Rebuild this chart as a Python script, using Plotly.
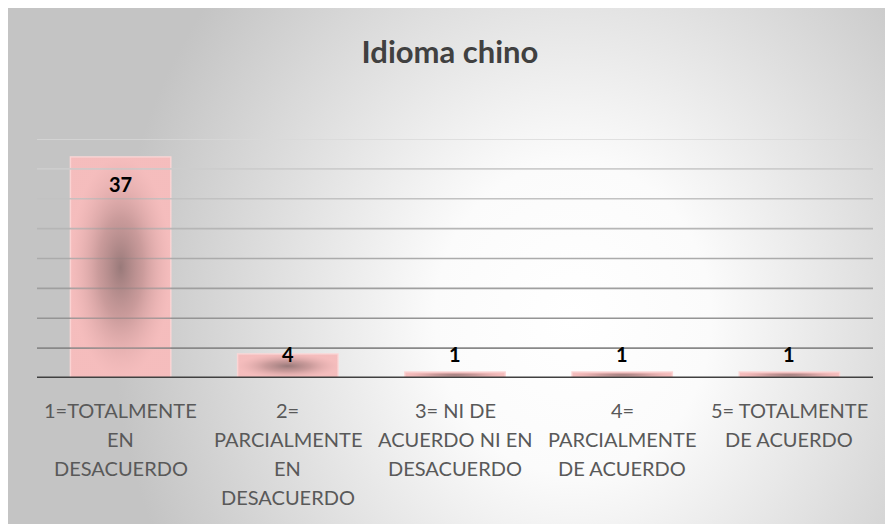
import plotly.graph_objects as go

# ---- data ----
categories = ["1=TOTALMENTE EN DESACUERDO", "2= PARCIALMENTE EN DESACUERDO",
              "3= NI DE ACUERDO NI EN DESACUERDO", "4= PARCIALMENTE DE ACUERDO",
              "5= TOTALMENTE DE ACUERDO"]
tick_lines = [["1=TOTALMENTE", "EN", "DESACUERDO"],
              ["2=", "PARCIALMENTE", "EN", "DESACUERDO"],
              ["3= NI DE", "ACUERDO NI EN", "DESACUERDO"],
              ["4=", "PARCIALMENTE", "DE ACUERDO"],
              ["5= TOTALMENTE", "DE ACUERDO"]]
values = [37, 4, 1, 1, 1]
title_text = "Idioma chino"
y_max = 40
y_step = 5

W, H = 893, 524
FONT = "Lato"
EDGE_GRAY = "#c4c4c4"

fig = go.Figure()

# ---- background (radial gradient chart area) on subplot xy, pixel coordinates ----
fig.add_trace(go.Scatter(
    x=[0, W, W, 0, 0], y=[0, 0, H, H, 0], mode="lines", line=dict(width=0),
    fill="toself", fillcolor=EDGE_GRAY, hoverinfo="skip", showlegend=False,
    xaxis="x", yaxis="y"))
cx, cy, rx, ry = 565, 310, 460, 520
fig.add_trace(go.Scatter(
    x=[cx - rx, cx + rx, cx + rx, cx - rx, cx - rx],
    y=[cy - ry, cy - ry, cy + ry, cy + ry, cy - ry],
    mode="lines", line=dict(width=0), fill="toself",
    fillgradient=dict(type="radial",
                      colorscale=[[0, "#ffffff"], [0.3, "#fbfbfb"], [0.75, "#d8d8d8"],
                                  [1, EDGE_GRAY]]),
    hoverinfo="skip", showlegend=False, xaxis="x", yaxis="y"))

# ---- gridlines (light at top, darker toward the bottom) ----
grid_vals = list(range(y_step, y_max + 1, y_step))
light, dark = 0xd9, 0x88
for gv in grid_vals:
    f = (gv - y_step) / (y_max - y_step)
    c = int(round(dark + (light - dark) * f))
    fig.add_trace(go.Scatter(
        x=[-0.5, len(values) - 0.5], y=[gv, gv], mode="lines",
        line=dict(color=f"rgb({c},{c},{c})", width=1.6),
        hoverinfo="skip", showlegend=False, xaxis="x2", yaxis="y2"))

# ---- bars ----
idx = list(range(len(values)))
bar_w = 0.6
fig.add_trace(go.Bar(
    x=idx, y=values, width=bar_w,
    marker=dict(color="#f7bfbf", line=dict(color="#fcd6d6", width=1.5)),
    hovertext=categories, hoverinfo="text+y",
    showlegend=False, xaxis="x2", yaxis="y2"))

# radial shading overlay on each bar
for i, v in zip(idx, values):
    fig.add_trace(go.Scatter(
        x=[i - bar_w / 2, i + bar_w / 2, i + bar_w / 2, i - bar_w / 2, i - bar_w / 2],
        y=[0, 0, v, v, 0], mode="lines", line=dict(width=0), fill="toself",
        fillgradient=dict(type="radial", colorscale=[
            [0, "rgba(148,118,118,0.95)"], [0.45, "rgba(178,136,136,0.65)"],
            [1, "rgba(232,176,176,0.15)"]]),
        hoverinfo="skip", showlegend=False, xaxis="x2", yaxis="y2"))

# baseline
fig.add_trace(go.Scatter(
    x=[-0.5, len(values) - 0.5], y=[0, 0], mode="lines",
    line=dict(color="#404040", width=3), hoverinfo="skip",
    showlegend=False, xaxis="x2", yaxis="y2", cliponaxis=False))

annotations = []
# data labels
for i, v in zip(idx, values):
    if v >= 10:
        annotations.append(dict(x=i, y=v, xref="x2", yref="y2", text=str(v),
                                showarrow=False, yanchor="middle", yshift=-27,
                                font=dict(family=FONT, size=20, color="#000000", weight="bold")))
    else:
        annotations.append(dict(x=i, y=max(v, 4), xref="x2", yref="y2", text=str(v),
                                showarrow=False, yanchor="middle",
                                font=dict(family=FONT, size=20, color="#000000", weight="bold")))

# category labels (one annotation per line for Excel-like line spacing)
first_line_px, line_gap = 402, 29
for i, lines in zip(idx, tick_lines):
    for k, t in enumerate(lines):
        py = first_line_px + k * line_gap
        annotations.append(dict(x=i, y=1 - py / H, xref="x2", yref="paper", text=t,
                                showarrow=False, yanchor="middle",
                                font=dict(family=FONT, size=20, color="#595959")))

fig.update_layout(
    width=W, height=H,
    margin=dict(l=0, r=0, t=0, b=0),
    paper_bgcolor=EDGE_GRAY, plot_bgcolor="rgba(0,0,0,0)",
    title=dict(text=title_text, x=442 / W, xanchor="center", y=1 - 44 / H, yanchor="middle",
               font=dict(family=FONT, size=31, color="#404040", weight="bold")),
    xaxis=dict(domain=[0, 1], range=[0, W], showgrid=False,
               zeroline=False, showticklabels=False, ticks="", fixedrange=True,
               showline=True, linecolor="#bdbdbd", linewidth=1, mirror=True),
    yaxis=dict(domain=[0, 1], range=[H, 0], showgrid=False, zeroline=False,
               showticklabels=False, ticks="", fixedrange=True,
               showline=True, linecolor="#bdbdbd", linewidth=1, mirror=True),
    xaxis2=dict(domain=[29 / W, 865 / W], range=[-0.5, len(values) - 0.5], anchor="y2",
                showgrid=False, zeroline=False, showticklabels=False, ticks="", showline=False),
    yaxis2=dict(domain=[1 - 370 / H, 1 - 131 / H], range=[0, y_max], anchor="x2",
                showgrid=False, zeroline=False, showticklabels=False, ticks="", showline=False),
    annotations=annotations,
    bargap=0.4,
)

fig.write_html("out.html")
